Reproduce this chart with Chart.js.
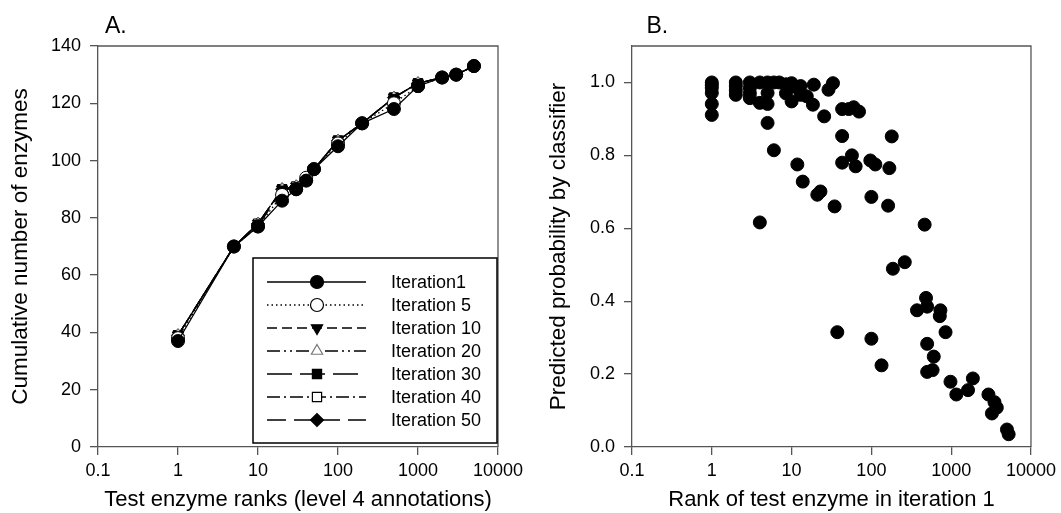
<!DOCTYPE html>
<html>
<head>
<meta charset="utf-8">
<script src="https://cdn.jsdelivr.net/npm/chart.js@4.4.1/dist/chart.umd.min.js"></script>
<style>
  html, body { margin: 0; padding: 0; background: #fff; }
  body { width: 1061px; height: 513px; position: relative; overflow: hidden; }
  .panel { position: absolute; top: 0; height: 513px; }
  #panelA { left: 0; width: 530px; }
  #panelB { left: 530px; width: 531px; }
</style>
</head>
<body>
<div class="panel" id="panelA"><canvas id="chartA"></canvas></div>
<div class="panel" id="panelB"><canvas id="chartB"></canvas></div>
<script>
// ---- panel A: cumulative number of enzymes vs rank ----
const ranksA = [1, 5, 10, 20, 30, 40, 50, 100, 200, 500, 1000, 2000, 3000, 5000];
const iter1  = [37, 70, 77, 86, 90, 93, 97, 105, 113, 118, 126, 129, 130, 133];
const iter5  = [38, 70, 77, 88, 90, 94, 97, 106, 113, 120, 126, 129, 130, 133];
const iter10 = [39, 70, 78, 90, 91, 93, 97, 107, 113, 122, 127, 129, 130, 133];
const iter20 = [39, 70, 78, 90, 91, 93, 97, 107, 113, 122, 127, 129, 130, 133];
const iter30 = [39, 70, 77, 90, 90, 93, 97, 107, 113, 122, 127, 129, 130, 133];
const iter40 = [39, 70, 78, 90, 91, 93, 97, 107, 113, 122, 127, 129, 130, 133];
const iter50 = [39, 70, 78, 90, 91, 93, 97, 107, 113, 122, 127, 129, 130, 133];
const seriesNames = ['Iteration1', 'Iteration 5', 'Iteration 10', 'Iteration 20', 'Iteration 30', 'Iteration 40', 'Iteration 50'];
const seriesValues = [iter1, iter5, iter10, iter20, iter30, iter40, iter50];
const yTicksA = [0, 20, 40, 60, 80, 100, 120, 140];
const xTicks = [0.1, 1, 10, 100, 1000, 10000];

// ---- panel B: predicted probability vs rank in iteration 1 ----
const rankB = [1, 1, 1, 1, 1, 1, 2, 2, 2, 2, 3, 3, 3, 3, 4, 4, 4, 5, 5, 5, 5,
  6, 6, 7, 8.5, 8.5, 9, 10, 10, 10, 11.8, 11.8, 13, 13, 13.8, 15.5, 18.5, 19, 21, 23,
  25.6, 29, 33, 34.6, 37.4, 43, 43, 43, 52, 57, 60, 63.5, 70, 97, 100, 100, 112, 134,
  162, 168, 180, 186, 262, 373, 465, 484, 500, 500, 500, 585, 605, 720, 733, 850,
  980, 1160, 1625, 1870, 2930, 3240, 3490, 3730, 5000, 5250];
const probB = [1.0, 0.993, 0.985, 0.971, 0.941, 0.911, 1.0, 0.99, 0.978, 0.966, 1.0, 0.985, 0.97, 0.957,
  1.0, 0.944, 0.616, 1.0, 0.971, 0.941, 0.889,
  0.814, 1.0, 1.0, 0.995, 0.97, 0.985, 0.99, 0.948, 0.998, 0.775, 0.985, 0.99, 0.966, 0.728, 0.962, 0.939, 0.994, 0.692, 0.701,
  0.907, 0.98, 0.998, 0.66, 0.315, 0.853, 0.78, 0.927, 0.927, 0.80, 0.932, 0.77, 0.92, 0.786, 0.686, 0.297, 0.775, 0.224,
  0.662, 0.765, 0.852, 0.489, 0.507, 0.375, 0.61, 0.409, 0.385, 0.283, 0.206, 0.211, 0.248, 0.359, 0.375, 0.315,
  0.179, 0.144, 0.156, 0.188, 0.144, 0.092, 0.123, 0.108, 0.048, 0.035];
const yTicksB = [0, 0.2, 0.4, 0.6, 0.8, 1.0];

const axisColor = '#555';
const fontFamily = "'Liberation Sans', Arial, Helvetica, sans-serif";
Chart.defaults.font.family = fontFamily;
Chart.defaults.color = '#000';

// marker + line style for each iteration
const seriesStyles = [
  { pointStyle: 'circle',   rotation: 0,   fill: '#000', stroke: '#000', dash: [] },
  { pointStyle: 'circle',   rotation: 0,   fill: '#fff', stroke: '#000', dash: [1.5, 3] },
  { pointStyle: 'triangle', rotation: 180, fill: '#000', stroke: '#000', dash: [10, 5] },
  { pointStyle: 'triangle', rotation: 0,   fill: '#fff', stroke: '#777', dash: [13, 4, 2, 4, 2, 4] },
  { pointStyle: 'rect',     rotation: 0,   fill: '#000', stroke: '#000', dash: [25, 8] },
  { pointStyle: 'rect',     rotation: 0,   fill: '#fff', stroke: '#000', dash: [13, 4, 2, 4] },
  { pointStyle: 'rectRot',  rotation: 0,   fill: '#000', stroke: '#000', dash: [19, 8] }
];

// top + right border of the plot box
const frame = {
  id: 'frame',
  afterDraw(chart) {
    const { ctx, chartArea: a } = chart;
    ctx.save();
    ctx.strokeStyle = axisColor;
    ctx.lineWidth = 1.3;
    ctx.beginPath();
    ctx.moveTo(a.left, a.top);
    ctx.lineTo(a.right, a.top);
    ctx.lineTo(a.right, a.bottom);
    ctx.stroke();
    ctx.restore();
  }
};

// "A." / "B." above the plot
const panelLetter = {
  id: 'panelLetter',
  afterDraw(chart, args, opts) {
    const { ctx, chartArea: a } = chart;
    ctx.save();
    ctx.fillStyle = '#000';
    ctx.font = '23px ' + fontFamily;
    ctx.textAlign = 'left';
    ctx.textBaseline = 'alphabetic';
    ctx.fillText(opts.text, a.left + opts.dx, 32.5);
    ctx.restore();
  }
};

// boxed legend with line samples inside panel A
const legendBox = {
  id: 'legendBox',
  afterDraw(chart) {
    const { ctx, chartArea: a } = chart;
    const x0 = a.right - 245, y0 = a.bottom - 189, w = 244, h = 185;
    ctx.save();
    ctx.fillStyle = '#fff';
    ctx.fillRect(x0, y0, w, h);
    ctx.strokeStyle = '#000';
    ctx.lineWidth = 1.5;
    ctx.strokeRect(x0, y0, w, h);
    chart.data.datasets.forEach((ds, i) => {
      const st = seriesStyles[i];
      const y = y0 + 24 + i * 23;
      ctx.setLineDash(st.dash);
      ctx.lineWidth = 1.3;
      ctx.strokeStyle = '#000';
      ctx.beginPath();
      ctx.moveTo(x0 + 14, y);
      ctx.lineTo(x0 + 113, y);
      ctx.stroke();
      ctx.setLineDash([]);
      ctx.fillStyle = st.fill;
      ctx.strokeStyle = st.stroke;
      ctx.lineWidth = 1.2;
      Chart.helpers.drawPoint(ctx, { pointStyle: st.pointStyle, rotation: st.rotation, radius: 6.5, borderWidth: 1.2 }, x0 + 64, y);
      ctx.fillStyle = '#000';
      ctx.font = '18px ' + fontFamily;
      ctx.textAlign = 'left';
      ctx.textBaseline = 'middle';
      ctx.fillText(ds.label, x0 + 138, y + 1);
    });
    ctx.restore();
  }
};

function xAxis(title) {
  return {
    type: 'logarithmic', min: 0.1, max: 10000,
    afterBuildTicks: s => { s.ticks = xTicks.map(v => ({ value: v })); },
    afterFit: s => { s.height = 513 - 447; },
    ticks: { color: '#000', font: { size: 18 }, padding: 5, maxRotation: 0, autoSkip: false, callback: v => String(v) },
    grid: { drawOnChartArea: false, drawTicks: true, tickLength: 8, color: axisColor, lineWidth: 1.3 },
    border: { color: axisColor, width: 1.3 },
    title: { display: true, text: title, color: '#000', font: { size: 22 }, padding: { top: 0, bottom: 0 } }
  };
}

function yAxis(title, min, max, tickVals, width, titlePad, fmt) {
  return {
    type: 'linear', min: min, max: max,
    afterBuildTicks: s => { s.ticks = tickVals.map(v => ({ value: v })); },
    afterFit: s => { s.width = width; },
    ticks: { color: '#000', font: { size: 18 }, padding: 9, autoSkip: false, callback: fmt },
    grid: { drawOnChartArea: false, drawTicks: true, tickLength: 8, color: axisColor, lineWidth: 1.3 },
    border: { color: axisColor, width: 1.3 },
    title: { display: true, text: title, color: '#000', font: { size: 22.5 }, padding: { top: titlePad, bottom: 0 } }
  };
}

new Chart(document.getElementById('chartA'), {
  type: 'scatter',
  data: {
    datasets: seriesNames.map((name, i) => ({
      label: name,
      data: ranksA.map((r, j) => ({ x: r, y: seriesValues[i][j] })),
      showLine: true,
      borderColor: '#000',
      borderWidth: 1.3,
      borderDash: seriesStyles[i].dash,
      pointStyle: seriesStyles[i].pointStyle,
      rotation: seriesStyles[i].rotation,
      pointRadius: 6.5,
      pointBorderWidth: 1,
      pointBackgroundColor: seriesStyles[i].fill,
      pointBorderColor: seriesStyles[i].stroke
    }))
  },
  options: {
    responsive: true, maintainAspectRatio: false, animation: false, events: [],
    layout: { padding: { left: 0, right: 32, top: 46, bottom: 0 } },
    scales: {
      x: xAxis('Test enzyme ranks (level 4 annotations)'),
      y: yAxis('Cumulative number of enzymes', 0, 140, yTicksA, 98, 7, v => String(v))
    },
    plugins: { legend: { display: false }, tooltip: { enabled: false }, panelLetter: { text: 'A.', dx: 7 } }
  },
  plugins: [frame, panelLetter, legendBox]
});

new Chart(document.getElementById('chartB'), {
  type: 'scatter',
  data: {
    datasets: [{
      label: 'Predicted probability',
      data: rankB.map((r, i) => ({ x: r, y: probB[i] })),
      pointStyle: 'circle',
      pointRadius: 6.5,
      pointBorderWidth: 1,
      pointBackgroundColor: '#000',
      pointBorderColor: '#000'
    }]
  },
  options: {
    responsive: true, maintainAspectRatio: false, animation: false, events: [],
    layout: { padding: { left: 0, right: 29, top: 46, bottom: 0 } },
    scales: {
      x: xAxis('Rank of test enzyme in iteration 1'),
      y: yAxis('Predicted probability by classifier', 0, 1.1, yTicksB, 102, 15, v => v.toFixed(1))
    },
    plugins: { legend: { display: false }, tooltip: { enabled: false }, panelLetter: { text: 'B.', dx: 14.5 } }
  },
  plugins: [frame, panelLetter]
});
</script>
</body>
</html>
